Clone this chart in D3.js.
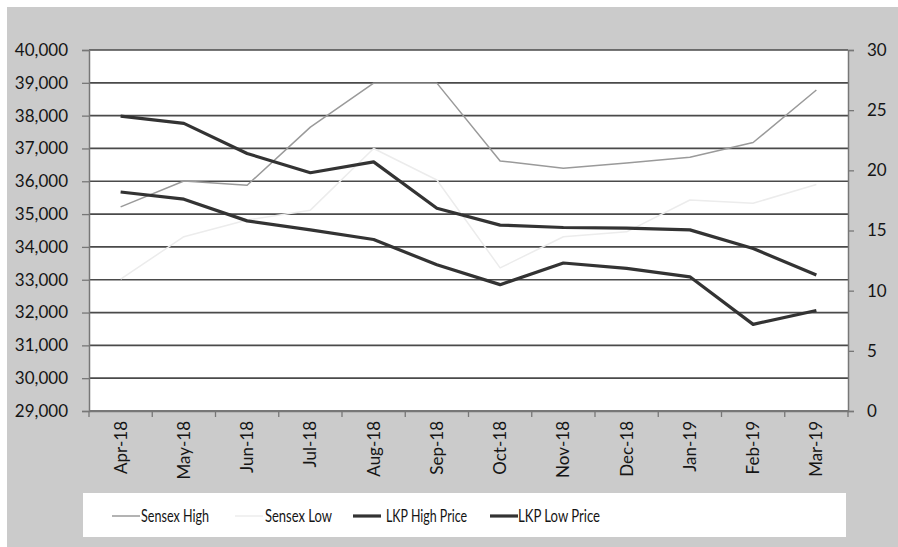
<!DOCTYPE html>
<html>
<head>
<meta charset="utf-8">
<script src="https://cdn.jsdelivr.net/npm/d3@7"></script>
<style>
  body { margin: 0; background: #fff; }
  text { font-family: Lato, "Open Sans", sans-serif; fill: #151515; }
</style>
</head>
<body>
<svg id="chart" width="898" height="547"></svg>
<script>
const months = ["Apr-18","May-18","Jun-18","Jul-18","Aug-18","Sep-18","Oct-18","Nov-18","Dec-18","Jan-19","Feb-19","Mar-19"]
const sensexHigh = [35220, 36010, 35880, 37650, 38990, 38990, 36620, 36400, 36560, 36730, 37180, 38780]
const sensexLow  = [33020, 34310, 34820, 35120, 37000, 36040, 33360, 34310, 34460, 35430, 35330, 35900]
const lkpHigh = [24.5, 23.9, 21.4, 19.8, 20.7, 16.85, 15.45, 15.25, 15.2, 15.05, 13.5, 11.3]
const lkpLow  = [18.2, 17.6, 15.8, 15.05, 14.25, 12.15, 10.5, 12.3, 11.85, 11.15, 7.2, 8.35]
const leftTicks = d3.range(29000, 40001, 1000)
const rightTicks = [0, 5, 10, 15, 20, 25, 30]

const svg = d3.select("#chart")
const pLeft = 89, pRight = 848, pTop = 50, pBottom = 411

// background
svg.append("rect").attr("x", 7).attr("y", 7).attr("width", 891).attr("height", 540).attr("fill", "#cbcbcb")
svg.append("rect").attr("x", pLeft).attr("y", pTop).attr("width", pRight - pLeft).attr("height", pBottom - pTop).attr("fill", "#fff")

const x = d3.scaleBand().domain(months).range([pLeft, pRight])
const yL = d3.scaleLinear().domain([29000, 40000]).range([pBottom, pTop])
const yR = d3.scaleLinear().domain([0, 30]).range([pBottom, pTop])

// gridlines
svg.append("g").selectAll("line").data(leftTicks).join("line")
  .attr("x1", pLeft).attr("x2", pRight)
  .attr("y1", d => yL(d)).attr("y2", d => yL(d))
  .attr("stroke", "#4a4a4a").attr("stroke-width", 1.7)

// left axis
const gl = svg.append("g").attr("transform", `translate(${pLeft},0)`)
  .call(d3.axisLeft(yL).tickValues(leftTicks).tickFormat(d3.format(",")).tickSize(7).tickPadding(14))
gl.selectAll("text").style("font-size", "17px")

// right axis
const gr = svg.append("g").attr("transform", `translate(${pRight},0)`)
  .call(d3.axisRight(yR).tickValues(rightTicks).tickSize(6).tickPadding(13))
gr.selectAll("text").style("font-size", "17px")

// x axis
const gx = svg.append("g").attr("transform", `translate(0,${pBottom})`)
  .call(d3.axisBottom(x).tickSize(0))
gx.selectAll("text")
  .attr("transform", "rotate(-90)")
  .attr("text-anchor", "end")
  .attr("x", -10).attr("y", 0).attr("dy", "0.35em")
  .style("font-size", "17px")
gx.append("g").selectAll("line").data(months.concat(["end"])).join("line")
  .attr("x1", (d, i) => pLeft + i * x.step()).attr("x2", (d, i) => pLeft + i * x.step())
  .attr("y1", 0).attr("y2", 6).attr("stroke", "#777").attr("stroke-width", 1.3)

for (const g of [gl, gr, gx]) {
  g.select(".domain").attr("stroke", "#777").attr("stroke-width", 1.5)
  g.selectAll(".tick line").attr("stroke", "#777").attr("stroke-width", 1.3)
}

// series
const series = [
  { name: "Sensex High", values: sensexHigh, scale: yL, color: "#9a9a9a", width: 1.5 },
  { name: "Sensex Low", values: sensexLow, scale: yL, color: "#ececec", width: 1.5 },
  { name: "LKP High Price", values: lkpHigh, scale: yR, color: "#333", width: 3.2 },
  { name: "LKP Low Price", values: lkpLow, scale: yR, color: "#333", width: 3.2 }
]
for (const s of series) {
  const line = d3.line().x((d, i) => x(months[i]) + x.bandwidth() / 2).y(d => s.scale(d))
  svg.append("path").datum(s.values).attr("d", line)
    .attr("fill", "none").attr("stroke", s.color).attr("stroke-width", s.width)
    .attr("stroke-linejoin", "round")
}

// legend (narrow font in the original, squeeze to fit)
const legend = svg.append("g")
legend.append("rect").attr("x", 83).attr("y", 493).attr("width", 763).attr("height", 44).attr("fill", "#fff")
const legLine = [112, 235, 353, 490]
const legText = [141, 265, 386, 518]
const legLen = [68, 67, 81, 82]
series.forEach((s, i) => {
  legend.append("line").attr("x1", legLine[i]).attr("x2", legLine[i] + 28).attr("y1", 516).attr("y2", 516)
    .attr("stroke", s.color).attr("stroke-width", s.width)
  legend.append("text").attr("x", legText[i]).attr("y", 516).attr("dy", "0.35em")
    .attr("textLength", legLen[i]).attr("lengthAdjust", "spacingAndGlyphs")
    .style("font-size", "17px").text(s.name)
})
</script>
</body>
</html>
